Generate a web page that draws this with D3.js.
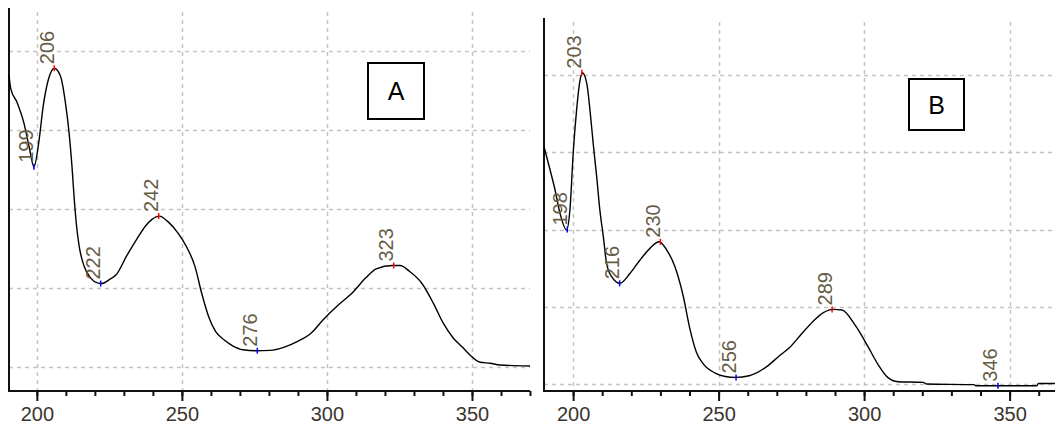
<!DOCTYPE html>
<html>
<head>
<meta charset="utf-8">
<script src="https://cdn.jsdelivr.net/npm/d3@7"></script>
<style>
  body { margin: 0; background: #fff; }
  svg { display: block; }
</style>
</head>
<body>
<div id="chart"></div>
<script>

// SPECTRUM A
var wavelengthA = [190.4, 191.0, 193.2, 195.5, 197.3, 199.0, 200.8, 202.2, 204.0, 206.0, 208.1, 210.0, 211.1, 212.1, 212.9, 213.7,
  214.6, 216.3, 218.5, 220.9, 222.3, 225.0, 227.4, 230.9, 234.4, 237.4, 239.7, 242.3, 245.0, 248.6, 251.5, 254.5,
  256.8, 259.2, 261.6, 264.5, 267.5, 271.0, 275.5, 280.4, 285.1, 289.9, 294.6, 298.7, 304.0, 308.7, 313.4, 317.0,
  322.5, 325.2, 328.6, 332.7, 336.7, 340.1, 343.6, 346.5, 349.3, 352.8, 356.2, 359.6, 370.0];
var absorbanceA = [1.85, 1.765, 1.677, 1.55, 1.40, 1.27, 1.444, 1.655, 1.824, 1.894, 1.846, 1.655, 1.486, 1.275, 1.063, 0.894,
  0.767, 0.64, 0.567, 0.535, 0.531, 0.556, 0.588, 0.704, 0.81, 0.894, 0.937, 0.958, 0.926, 0.852, 0.767, 0.64,
  0.471, 0.323, 0.228, 0.175, 0.137, 0.112, 0.106, 0.108, 0.127, 0.165, 0.218, 0.302, 0.397, 0.471, 0.567, 0.624,
  0.645, 0.645, 0.606, 0.533, 0.406, 0.28, 0.185, 0.132, 0.079, 0.033, 0.027, 0.016, 0.009];
var peakNmA   = [199, 206, 222, 242, 276, 323];
var peakAbsA  = [1.27, 1.894, 0.531, 0.958, 0.106, 0.645];
var peakKindA = ['min', 'max', 'min', 'max', 'min', 'max'];

// SPECTRUM B
var wavelengthB = [190.0, 192.1, 193.8, 195.5, 197.8, 198.9, 200.1, 201.2, 202.4, 203.2, 204.7, 205.8, 206.9, 208.1, 209.2, 210.4,
  211.5, 213.3, 216.1, 219.6, 223.0, 226.4, 229.5, 232.2, 235.0, 237.9, 240.1, 242.4, 244.8, 248.8,
  252.3, 255.8, 260.5, 266.9, 270.9, 274.4, 277.9, 282.6, 286.0, 289.3, 292.4, 297.1, 301.2, 304.7, 308.1, 311.6,
  320.3, 321.5, 337.8, 338.4, 346.0, 359.3, 359.9, 365.6];
var absorbanceB = [1.536, 1.385, 1.256, 1.105, 0.997, 1.126, 1.515, 1.773, 1.968, 2.015, 1.946, 1.773, 1.558, 1.342, 1.126, 0.953,
  0.781, 0.694, 0.652, 0.717, 0.803, 0.878, 0.921, 0.867, 0.759, 0.565, 0.36, 0.204, 0.129, 0.071,
  0.049, 0.043, 0.054, 0.118, 0.183, 0.236, 0.311, 0.408, 0.462, 0.483, 0.479, 0.376, 0.247, 0.129, 0.043, 0.015,
  0.011, 0.0, -0.004, -0.011, -0.011, -0.011, 0.004, 0.004];
var peakNmB   = [198, 203, 216, 230, 256, 289, 346];
var peakAbsB  = [1.0, 2.015, 0.652, 0.921, 0.043, 0.483, -0.011];
var peakKindB = ['min', 'max', 'min', 'max', 'min', 'max', 'min'];

var gridAbs   = [0, 0.5, 1, 1.5, 2];
var gridNm    = [200, 250, 300, 350];
var tickLabels = ['200', '250', '300', '350'];

var width = 1055, height = 430;

var svg = d3.select('#chart')
  .append('svg')
    .attr('width', width)
    .attr('height', height);

svg.append('rect')
  .attr('width', width)
  .attr('height', height)
  .attr('fill', '#ffffff');

function drawPanel(p) {
  var x = d3.scaleLinear().domain(p.xDomain).range([p.left, p.right]);
  var y = d3.scaleLinear().domain(p.yDomain).range([p.bottom, p.top]);
  var g = svg.append('g').attr('class', 'panel-' + p.name);

  // grid
  g.selectAll('line.hgrid')
    .data(gridAbs)
    .enter().append('line')
      .attr('class', 'hgrid')
      .attr('x1', p.left).attr('x2', p.right)
      .attr('y1', function(d) { return Math.round(y(d)) + 0.5; })
      .attr('y2', function(d) { return Math.round(y(d)) + 0.5; })
      .attr('stroke', '#c4c4c4')
      .attr('stroke-width', 1.5)
      .attr('stroke-dasharray', '4,4');

  g.selectAll('line.vgrid')
    .data(gridNm)
    .enter().append('line')
      .attr('class', 'vgrid')
      .attr('x1', function(d) { return Math.round(x(d)) + 0.5; })
      .attr('x2', function(d) { return Math.round(x(d)) + 0.5; })
      .attr('y1', p.gridTop).attr('y2', p.bottom)
      .attr('stroke', '#c4c4c4')
      .attr('stroke-width', 1.5)
      .attr('stroke-dasharray', '4,4');

  // x axis: minor ticks every 10, labelled major ticks every 50
  var minor = d3.range(p.firstTick, p.xDomain[1] + 0.01, 10);
  var axis = d3.axisBottom(x)
    .tickValues(minor)
    .tickSize(5)
    .tickFormat('');
  var ax = g.append('g')
    .attr('transform', 'translate(0,' + p.bottom + ')')
    .call(axis);
  ax.select('.domain').remove();
  ax.selectAll('.tick line').attr('stroke', '#111').attr('stroke-width', 2);

  var major = d3.axisBottom(x)
    .tickValues(gridNm)
    .tickSize(10)
    .tickPadding(6)
    .tickFormat(function(d, i) { return tickLabels[i]; });
  var mx = g.append('g')
    .attr('transform', 'translate(0,' + p.bottom + ')')
    .call(major);
  mx.select('.domain').remove();
  mx.selectAll('.tick line').attr('stroke', '#111').attr('stroke-width', 2);
  mx.selectAll('.tick text')
    .attr('font-family', 'Liberation Sans, Arial, sans-serif')
    .attr('font-size', 20)
    .attr('fill', '#3a352e');

  g.append('line')
    .attr('x1', p.left).attr('x2', p.right)
    .attr('y1', p.bottom).attr('y2', p.bottom)
    .attr('stroke', '#111').attr('stroke-width', 2);
  g.append('line')
    .attr('x1', p.left).attr('x2', p.left)
    .attr('y1', p.top).attr('y2', p.bottom + 1)
    .attr('stroke', '#111').attr('stroke-width', 2);

  // spectrum
  var pts = p.nm.map(function(d, i) { return [d, p.abs[i]]; });
  var line = d3.line()
    .x(function(d) { return x(d[0]); })
    .y(function(d) { return y(d[1]); })
    .curve(d3.curveMonotoneX);
  g.append('path')
    .datum(pts)
    .attr('d', line)
    .attr('fill', 'none')
    .attr('stroke', '#000')
    .attr('stroke-width', 1.4);

  // peak / valley markers
  var peaks = p.peakNm.map(function(d, i) { return { nm: d, a: p.peakAbs[i], kind: p.peakKind[i] }; });
  var mk = g.selectAll('g.peak')
    .data(peaks)
    .enter().append('g')
      .attr('class', 'peak')
      .attr('transform', function(d) { return 'translate(' + x(d.nm) + ',' + y(d.a) + ')'; });
  mk.append('line')
    .attr('y1', -3).attr('y2', 3)
    .attr('stroke', function(d) { return d.kind == 'max' ? '#ff0000' : '#0000ff'; })
    .attr('stroke-width', 1.5);
  mk.append('text')
    .text(function(d) { return d.nm; })
    .attr('transform', 'translate(-0.5,-4) rotate(-90)')
    .attr('font-family', 'Liberation Sans, Arial, sans-serif')
    .attr('font-size', 20)
    .attr('fill', '#675d47');

  // panel letter box
  g.append('rect')
    .attr('x', p.box[0]).attr('y', p.box[1])
    .attr('width', p.box[2]).attr('height', p.box[3])
    .attr('fill', '#fff')
    .attr('stroke', '#000')
    .attr('stroke-width', 2);
  g.append('text')
    .text(p.name)
    .attr('x', p.box[0] + p.box[2] / 2)
    .attr('y', p.box[1] + p.box[3] / 2 + 9)
    .attr('text-anchor', 'middle')
    .attr('font-family', 'Liberation Sans, Arial, sans-serif')
    .attr('font-size', 25)
    .attr('fill', '#000');
}

drawPanel({
  name: 'A',
  nm: wavelengthA, abs: absorbanceA,
  peakNm: peakNmA, peakAbs: peakAbsA, peakKind: peakKindA,
  xDomain: [190.4, 370], yDomain: [-0.149, 2.275],
  left: 9, right: 530, top: 8, bottom: 391, gridTop: 12,
  firstTick: 200,
  box: [368, 63, 56, 56]
});

drawPanel({
  name: 'B',
  nm: wavelengthB, abs: absorbanceB,
  peakNm: peakNmB, peakAbs: peakAbsB, peakKind: peakKindB,
  xDomain: [190, 365.6], yDomain: [-0.045, 2.369],
  left: 544, right: 1055, top: 18, bottom: 391, gridTop: 22,
  firstTick: 200,
  box: [909, 79, 55, 51]
});

</script>
</body>
</html>
